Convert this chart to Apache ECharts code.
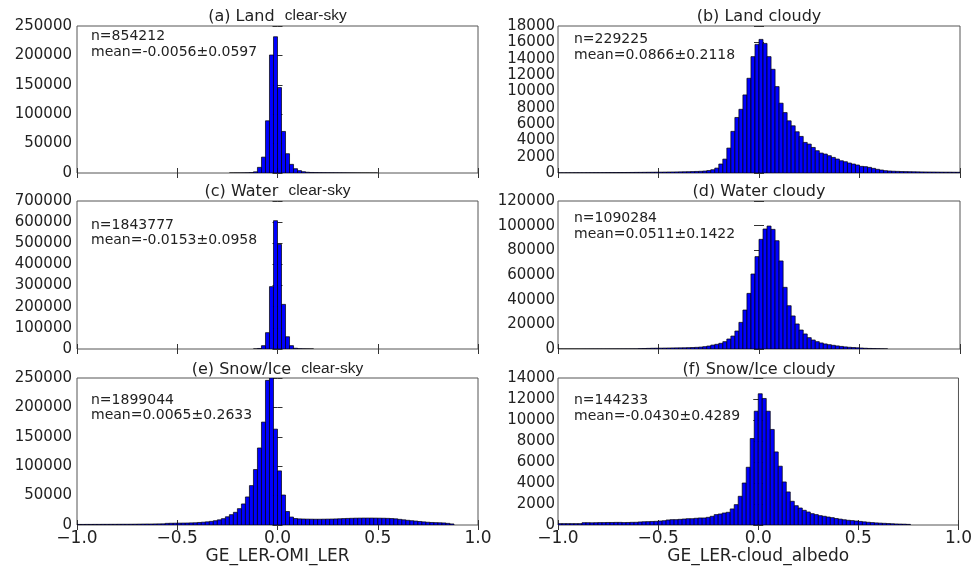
<!DOCTYPE html>
<html>
<head>
<meta charset="utf-8">
<script src="https://cdn.jsdelivr.net/npm/echarts@6/dist/echarts.min.js"></script>
<style>html,body{margin:0;padding:0;background:#fff}#chart{width:975px;height:569px}</style>
</head>
<body>
<div id="chart"></div>
<script>
// ---- Data (histogram counts, 100 bins of width 0.02 from -1.0 to 1.0) ----
const BIN_MIN = -1.0;
const BIN_WIDTH = 0.02;

const countsLandClear = [
  0,0,0,0,0,0,0,0,0,0,
  0,0,0,0,0,0,0,0,0,0,
  0,0,0,0,0,0,0,0,0,0,
  0,0,0,0,0,0,0,0,50,80,
  120,200,350,700,2000,9600,27000,88800,200700,231700,
  145300,70700,32800,14700,7300,4000,2200,1300,900,700,
  600,500,450,400,350,300,250,200,150,100,
  60,40,30,20,10,0,0,0,0,0,
  0,0,0,0,0,0,0,0,0,0,
  0,0,0,0,0,0,0,0,0,0
];
const countsLandCloudy = [
  20,20,25,25,30,30,30,35,35,40,
  40,45,50,50,55,60,60,65,70,75,
  80,85,90,95,100,105,110,120,125,130,
  140,150,160,175,190,210,240,300,400,600,
  1100,1700,3050,5100,6800,7800,9560,11600,14250,15750,
  16360,15870,14250,12700,10580,8550,7400,6390,5780,5050,
  4480,3745,3540,3130,2730,2440,2320,2120,1910,1710,
  1500,1380,1220,1100,980,815,775,690,570,450,
  365,285,245,220,200,180,170,160,150,140,
  130,125,120,115,110,105,100,100,95,90
];
const countsWaterClear = [
  0,0,0,0,0,0,0,0,0,0,
  0,0,0,0,0,0,0,0,0,0,
  0,0,0,0,0,0,0,0,0,0,
  0,0,0,0,0,0,0,0,0,0,
  0,0,0,0,300,2500,15800,77300,295000,607000,
  495000,211000,58000,15800,3500,1200,600,300,150,0,
  0,0,0,0,0,0,0,0,0,0,
  0,0,0,0,0,0,0,0,0,0,
  0,0,0,0,0,0,0,0,0,0,
  0,0,0,0,0,0,0,0,0,0
];
const countsWaterCloudy = [
  10,10,10,20,20,20,30,30,40,40,
  50,50,60,60,70,70,80,80,90,100,
  300,400,500,600,650,700,750,800,850,900,
  950,1000,1100,1200,1350,1550,1900,2400,3200,3800,
  4600,5950,8100,10500,14600,21600,31600,45100,60800,74900,
  88900,97300,99700,97000,87800,71400,50000,35100,26800,20300,
  15400,12200,9200,7300,5950,4900,4100,3500,3000,2500,
  2100,1700,1400,1200,1000,800,600,450,350,250,
  150,80,0,0,0,0,0,0,0,0,
  0,0,0,0,0,0,0,0,0,0
];
const countsSnowClear = [
  1000,1000,1050,1050,1100,1100,1150,1150,1200,1200,
  1250,1300,1300,1350,1400,1500,1600,1700,1700,1800,
  1900,2000,2800,3000,3100,3200,3300,3400,3600,3800,
  4300,4800,5400,6200,7300,8800,10800,14000,17600,21600,
  27800,35800,47700,67000,94300,131000,175000,246000,250000,163000,
  92000,51000,23000,13500,11000,10400,10200,10000,9900,9800,
  9800,9900,10000,10100,10300,10600,10900,11200,11400,11600,
  11700,11800,11800,11800,11700,11600,11500,11300,11000,10500,
  9600,8800,8000,7300,6700,6000,5300,4700,4300,4000,
  3800,3500,2800,1800,0,0,0,0,0,0
];
const countsSnowCloudy = [
  130,130,130,130,130,130,220,220,210,220,
  230,230,240,240,250,250,230,240,255,260,
  290,310,320,340,350,380,410,480,510,510,
  540,570,600,600,640,670,670,730,830,990,
  1050,1145,1210,1530,1940,2735,4000,5500,8240,10840,
  12500,12050,10840,9100,6960,5600,4100,3150,2260,1840,
  1620,1400,1240,1080,990,890,830,760,700,620,
  560,500,450,420,380,340,300,260,230,200,
  180,160,140,120,100,90,80,60,0,0,
  0,0,0,0,0,0,0,0,0,0
];

const panelTitles = [
  ['(a) Land  ', 'clear-sky'], ['(b) Land cloudy', ''],
  ['(c) Water  ', 'clear-sky'], ['(d) Water cloudy', ''],
  ['(e) Snow/Ice  ', 'clear-sky'], ['(f) Snow/Ice cloudy', '']
];
const panelN = ['n=854212', 'n=229225', 'n=1843777', 'n=1090284', 'n=1899044', 'n=144233'];
const panelMean = ['mean=-0.0056\u00b10.0597', 'mean=0.0866\u00b10.2118', 'mean=-0.0153\u00b10.0958',
                   'mean=0.0511\u00b10.1422', 'mean=0.0065\u00b10.2633', 'mean=-0.0430\u00b10.4289'];
const yMax = [250000, 18000, 700000, 120000, 250000, 14000];
const yStep = [50000, 2000, 100000, 20000, 50000, 2000];
const xAxisNames = ['GE_LER-OMI_LER', 'GE_LER-cloud_albedo'];
const allCounts = [countsLandClear, countsLandCloudy, countsWaterClear, countsWaterCloudy, countsSnowClear, countsSnowCloudy];

// ---- Layout ----
const colLeft = [77, 558];
const colWidth = [401, 402];
const rowTop = [26, 201, 378];
const rowHeight = [147, 148, 147];
const titleY = [16.7, 191.7, 370];
const annOffset = [[10, 26], [13, 29], [24, 39], [17, 33], [22, 37], [22, 38]];
const FONT = '"DejaVu Sans", Verdana, sans-serif';
const FONT2 = '"Liberation Sans", Arial, sans-serif';
const TXT = '#222';
const FRAME = '#555';
const TITLE_SIZE = 16, SUB_SIZE = 15.5, SUB_DY = -1;

const measureCtx = document.createElement('canvas').getContext('2d');
function textWidth(t, size, family) { measureCtx.font = size + 'px ' + family; return measureCtx.measureText(t).width; }

const grids = [], xAxes = [], yAxes = [], series = [], graphics = [];

function renderItem(params, api) {
  const x0 = api.value(0), x1 = api.value(1), y = api.value(2);
  const tl = api.coord([x0, y]);
  const br = api.coord([x1, 0]);
  return {
    type: 'rect',
    shape: { x: tl[0], y: tl[1], width: br[0] - tl[0], height: br[1] - tl[1] },
    style: { fill: '#0000ff', stroke: '#000', lineWidth: 0.7 }
  };
}

for (let p = 0; p < 6; p++) {
  const col = p % 2, row = Math.floor(p / 2);
  const L = colLeft[col], W = colWidth[col], T = rowTop[row], H = rowHeight[row];
  grids.push({ left: L, top: T, width: W, height: H, show: true, borderColor: FRAME, borderWidth: 1, backgroundColor: 'transparent' });
  const bottomRow = row === 2;
  const tick = { show: true, inside: true, length: 5, lineStyle: { color: '#333', width: 1 } };
  xAxes.push({
    gridIndex: p, type: 'value', min: -1, max: 1, interval: 0.5, position: 'bottom',
    axisLine: { show: false }, splitLine: { show: false }, axisTick: tick,
    axisLabel: { show: bottomRow, margin: 5, fontSize: 17, fontFamily: FONT, color: TXT,
      formatter: v => (v < 0 ? '\u2212' : '') + Math.abs(v).toFixed(1) },
    name: bottomRow ? xAxisNames[col] : '', nameLocation: 'middle', nameGap: 23,
    nameTextStyle: { fontSize: 17, fontFamily: FONT, color: TXT, verticalAlign: 'top' }
  });
  xAxes.push({
    gridIndex: p, type: 'value', min: -1, max: 1, interval: 0.5, position: 'top',
    axisLine: { show: false }, splitLine: { show: false }, axisTick: tick, axisLabel: { show: false }
  });
  yAxes.push({
    gridIndex: p, type: 'value', min: 0, max: yMax[p], interval: yStep[p], position: 'left',
    axisLine: { show: false }, splitLine: { show: false }, axisTick: tick,
    axisLabel: { margin: col === 0 ? 5 : 3, fontSize: 15, fontFamily: FONT, color: TXT, formatter: v => String(v) }
  });
  yAxes.push({
    gridIndex: p, type: 'value', min: 0, max: yMax[p], interval: yStep[p], position: 'right',
    axisLine: { show: false }, splitLine: { show: false }, axisTick: tick, axisLabel: { show: false }
  });
  const data = [];
  allCounts[p].forEach((c, i) => {
    if (c > 0) data.push([BIN_MIN + i * BIN_WIDTH, BIN_MIN + (i + 1) * BIN_WIDTH, c]);
  });
  series.push({
    type: 'custom', xAxisIndex: 2 * p, yAxisIndex: 2 * p, renderItem: renderItem,
    encode: { x: [0, 1], y: 2 }, data: data, clip: true, silent: true, animation: false
  });
  // panel title: main part + optional "clear-sky" part in a narrower face
  const tA = panelTitles[p][0], tB = panelTitles[p][1];
  const wA = textWidth(tA, TITLE_SIZE, FONT);
  const wB = tB ? textWidth(tB, SUB_SIZE, FONT2) : 0;
  const x0 = L + W / 2 - (wA + wB) / 2;
  graphics.push({ type: 'text', x: x0, y: titleY[row],
    style: { text: tA, fontSize: TITLE_SIZE, fontFamily: FONT, fill: TXT, align: 'left', verticalAlign: 'middle' } });
  if (tB) {
    graphics.push({ type: 'text', x: x0 + wA, y: titleY[row] + SUB_DY,
      style: { text: tB, fontSize: SUB_SIZE, fontFamily: FONT2, fill: TXT, align: 'left', verticalAlign: 'middle' } });
  }
  const ax = L + (col === 0 ? 14 : 16);
  graphics.push({ type: 'text', x: ax, y: T + annOffset[p][0],
    style: { text: panelN[p], fontSize: 14, fontFamily: FONT, fill: TXT, align: 'left', verticalAlign: 'middle' } });
  graphics.push({ type: 'text', x: ax, y: T + annOffset[p][1],
    style: { text: panelMean[p], fontSize: 14, fontFamily: FONT, fill: TXT, align: 'left', verticalAlign: 'middle' } });
}

const chart = echarts.init(document.getElementById('chart'), null, { renderer: 'canvas' });
chart.setOption({
  animation: false,
  backgroundColor: '#fff',
  grid: grids, xAxis: xAxes, yAxis: yAxes, series: series, graphic: graphics
});
</script>
</body>
</html>
